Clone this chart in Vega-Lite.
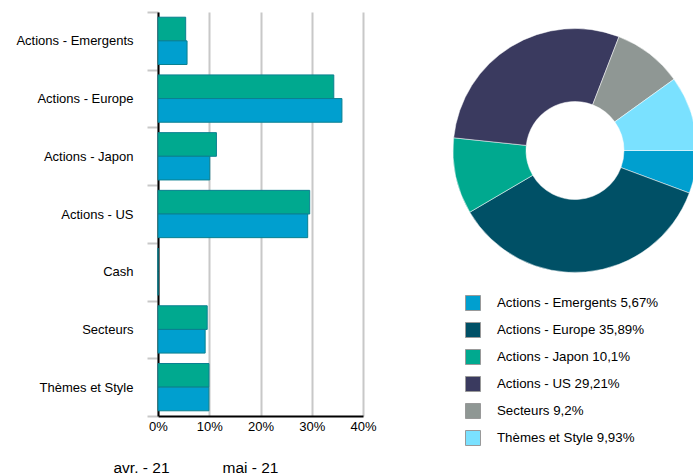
{
  "$schema": "https://vega.github.io/schema/vega-lite/v6.json",
  "padding": {"left": 15, "top": 6, "right": 0, "bottom": 0},
  "spacing": 89,
  "bounds": "flush",
  "background": "white",
  "resolve": {"scale": {"color": "independent"}, "legend": {"color": "independent"}},
  "config": {
    "view": {"stroke": null},
    "font": "Liberation Sans",
    "axis": {"labelFont": "Liberation Sans", "labelColor": "#000000"},
    "legend": {"labelFont": "Liberation Sans", "labelColor": "#000000"}
  },
  "hconcat": [
    {
      "width": 205,
      "height": 404,
      "data": {
        "values": [
          {"cat": "Actions - Emergents", "period": "avr. - 21", "value": 5.4},
          {"cat": "Actions - Emergents", "period": "mai - 21", "value": 5.67},
          {"cat": "Actions - Europe", "period": "avr. - 21", "value": 34.3},
          {"cat": "Actions - Europe", "period": "mai - 21", "value": 35.89},
          {"cat": "Actions - Japon", "period": "avr. - 21", "value": 11.4},
          {"cat": "Actions - Japon", "period": "mai - 21", "value": 10.1},
          {"cat": "Actions - US", "period": "avr. - 21", "value": 29.6},
          {"cat": "Actions - US", "period": "mai - 21", "value": 29.21},
          {"cat": "Cash", "period": "avr. - 21", "value": 0},
          {"cat": "Cash", "period": "mai - 21", "value": 0},
          {"cat": "Secteurs", "period": "avr. - 21", "value": 9.6},
          {"cat": "Secteurs", "period": "mai - 21", "value": 9.2},
          {"cat": "Thèmes et Style", "period": "avr. - 21", "value": 9.95},
          {"cat": "Thèmes et Style", "period": "mai - 21", "value": 9.93}
        ]
      },
      "mark": {"type": "bar", "stroke": "#0a8090", "strokeWidth": 1},
      "encoding": {
        "y": {
          "field": "cat",
          "type": "nominal",
          "sort": null,
          "scale": {"paddingInner": 0, "paddingOuter": 0},
          "axis": {
            "title": null,
            "tickBand": "extent",
            "tickColor": "#c8c8c8",
            "tickWidth": 2,
            "tickSize": 11,
            "domainColor": "#000000",
            "domainWidth": 2,
            "labelFontSize": 13,
            "labelPadding": 14,
            "grid": false
          }
        },
        "yOffset": {
          "field": "period",
          "type": "nominal",
          "sort": ["avr. - 21", "mai - 21"],
          "scale": {"paddingInner": 0, "paddingOuter": 0.22}
        },
        "x": {
          "field": "value",
          "type": "quantitative",
          "scale": {"domain": [0, 40], "nice": false},
          "axis": {
            "title": null,
            "values": [0, 10, 20, 30, 40],
            "labelExpr": "datum.value + '%'",
            "labelFlush": false,
            "ticks": false,
            "labelFontSize": 13,
            "labelPadding": 4,
            "domainColor": "#000000",
            "domainWidth": 2,
            "grid": true,
            "gridColor": "#c8c8c8",
            "gridWidth": 2
          }
        },
        "color": {
          "field": "period",
          "type": "nominal",
          "sort": ["avr. - 21", "mai - 21"],
          "scale": {"domain": ["avr. - 21", "mai - 21"], "range": ["#00a98f", "#009fcf"]},
          "legend": {
            "title": null,
            "orient": "none",
            "direction": "horizontal",
            "legendX": -60,
            "legendY": 448,
            "symbolOpacity": 0,
            "symbolSize": 1,
            "symbolStrokeWidth": 0,
            "labelOffset": 0,
            "labelFontSize": 15.5,
            "columnPadding": 37
          }
        }
      }
    },
    {
      "width": 246,
      "height": 277,
      "data": {
        "values": [
          {"name": "Actions - Emergents 5,67%", "ord": 1, "value": 5.67},
          {"name": "Actions - Europe 35,89%", "ord": 2, "value": 35.89},
          {"name": "Actions - Japon 10,1%", "ord": 3, "value": 10.1},
          {"name": "Actions - US 29,21%", "ord": 4, "value": 29.21},
          {"name": "Secteurs 9,2%", "ord": 5, "value": 9.2},
          {"name": "Thèmes et Style 9,93%", "ord": 6, "value": 9.93}
        ]
      },
      "mark": {"type": "arc", "outerRadius": 122, "innerRadius": 49, "stroke": "#ffffff", "strokeWidth": 0.5},
      "encoding": {
        "theta": {
          "field": "value",
          "type": "quantitative",
          "stack": true,
          "scale": {"range": [1.5707963, 7.8539816]}
        },
        "order": {"field": "ord", "type": "quantitative"},
        "color": {
          "field": "name",
          "type": "nominal",
          "scale": {
            "domain": ["Actions - Emergents 5,67%", "Actions - Europe 35,89%", "Actions - Japon 10,1%", "Actions - US 29,21%", "Secteurs 9,2%", "Thèmes et Style 9,93%"],
            "range": ["#009fcf", "#005066", "#00a98f", "#3a3a5f", "#8f9794", "#7ae1ff"]
          },
          "legend": {
            "title": null,
            "orient": "none",
            "legendX": 13,
            "legendY": 283,
            "symbolType": "square",
            "symbolSize": 225,
            "symbolStrokeColor": "#999999",
            "symbolStrokeWidth": 1,
            "labelFontSize": 13.3,
            "labelOffset": 16,
            "rowPadding": 7,
            "labelLimit": 300
          }
        }
      }
    }
  ]
}
